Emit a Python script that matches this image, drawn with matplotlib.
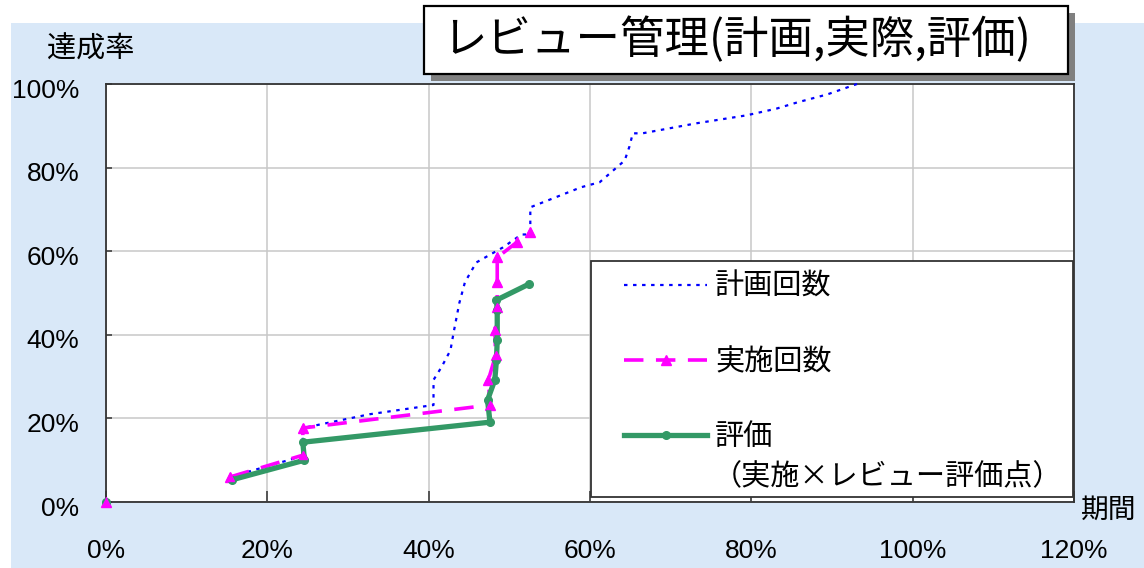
import numpy as np
import matplotlib
matplotlib.use('Agg')
import matplotlib.pyplot as plt
from matplotlib.ticker import PercentFormatter, MultipleLocator
from matplotlib.patches import Rectangle
import matplotlib.transforms as mtransforms
from matplotlib import font_manager

nan = np.nan

# ---- data (percent) ----
plan_x = [0, nan, 15.4, 24.4, 24.4, 32.7, 40.6, 40.6, 41.6, 42.7, 43.1, 43.8, 44.5, 45.9,
          49.2, 51.5, 52.6, 52.6, 58.9, 61.2, 64.3, 64.9, 65.3, 66.5, 73.2, 79.4, 83.1,
          85.7, 89.4, 93.1]
plan_y = [0, nan, 6.0, 11.0, 17.7, 21.0, 23.2, 29.2, 32.3, 36.3, 40.6, 47.6, 52.6, 57.3,
          60.9, 64.0, 64.0, 70.5, 75.3, 76.5, 81.7, 85.1, 88.2, 88.2, 90.6, 92.5, 94.1,
          95.6, 97.5, 100.0]

act_x = [0, nan, 15.4, 24.4, 24.4, 47.6, 47.4, 48.3, 48.2, 48.5, 48.5, 48.5, 50.9, nan, 52.6]
act_y = [0, nan, 6.0, 11.2, 17.7, 23.2, 29.2, 35.1, 41.1, 46.6, 52.6, 58.5, 62.1, nan, 64.5]

eval_x = [0, nan, 15.6, 24.6, 24.4, 47.6, 47.3, 48.2, 48.4, 48.5, 48.5, 48.4, 52.4]
eval_y = [0, nan, 5.3, 10.0, 14.3, 19.1, 24.4, 29.2, 33.9, 38.7, 45.9, 48.3, 52.1]

series_labels = ['計画回数', '実施回数', '評価']
legend_extra = '（実施×レビュー評価点）'
title_text = 'レビュー管理(計画,実際,評価)'
ylabel_text = '達成率'
xlabel_text = '期間'
x_ticks = [0, 20, 40, 60, 80, 100, 120]
y_ticks = [0, 20, 40, 60, 80, 100]

# ---- fonts ----
CJK = 'Noto Sans CJK JP'
try:
    font_manager.findfont('Liberation Sans Narrow', fallback_to_default=False)
    NUM = 'Liberation Sans Narrow'
except Exception:
    NUM = 'Liberation Sans'
plt.rcParams['font.family'] = [CJK, 'DejaVu Sans']
plt.rcParams['lines.scale_dashes'] = False

W, H = 1144, 568
def fx(px): return px / W
def fy(py): return 1 - py / H

fig = plt.figure(figsize=(W / 100, H / 100), dpi=100)
fig.patch.set_facecolor('white')

BG = '#d9e8f8'
fig.patches.append(Rectangle((fx(11), 0), 1 - fx(11), fy(23), transform=fig.transFigure,
                             facecolor=BG, edgecolor='none', zorder=-5))
# title box with shadow
fig.patches.append(Rectangle((fx(431), fy(81)), fx(1075) - fx(431), fy(13) - fy(81),
                             transform=fig.transFigure, facecolor='#808080',
                             edgecolor='none', zorder=2))
fig.patches.append(Rectangle((fx(424), fy(74)), fx(1068) - fx(424), fy(6) - fy(74),
                             transform=fig.transFigure, facecolor='white',
                             edgecolor='black', lw=1.6, zorder=3))
fig.text(fx(737), fy(40), title_text, ha='center', va='center', fontsize=32,
         family=[CJK, 'DejaVu Sans'], zorder=4)

ax = fig.add_axes([fx(106), fy(502), fx(1074) - fx(106), fy(84) - fy(502)])
ax.set_facecolor('white')
ax.set_xlim(0, 120)
ax.set_ylim(0, 100)
ax.set_xticks(x_ticks)
ax.set_yticks(y_ticks)
ax.xaxis.set_major_formatter(PercentFormatter(100, decimals=0))
ax.yaxis.set_major_formatter(PercentFormatter(100, decimals=0))
ax.grid(True, color='#c8c8c8', lw=1.1)
ax.set_axisbelow(True)
for s in ax.spines.values():
    s.set_color('#333333')
    s.set_linewidth(1.3)
ax.tick_params(axis='x', direction='in', length=8, width=1.1, color='#333333',
               pad=27, labelsize=19)
ax.tick_params(axis='y', direction='in', length=4, width=1.1, color='#333333',
               pad=19, labelsize=19)
for lbl in ax.get_xticklabels() + ax.get_yticklabels():
    lbl.set_fontfamily(NUM)
off = mtransforms.ScaledTranslation(0, -4 / 100, fig.dpi_scale_trans)
for t in ax.yaxis.get_major_ticks():
    t.label1.set_transform(t.label1.get_transform() + off)

l1, = ax.plot(plan_x, plan_y, color='#0000ff', lw=1.6, linestyle=(0, (2.5, 4)),
              label=series_labels[0], clip_on=False, zorder=3)
l2, = ax.plot(act_x, act_y, color='#ff00ff', lw=2.6, linestyle=(0, (14, 9)),
              marker='^', markersize=7, label=series_labels[1], clip_on=False, zorder=4)
l3, = ax.plot(eval_x, eval_y, color='#339966', lw=3.8, marker='o', markersize=5.5,
              label=series_labels[2], clip_on=False, zorder=5)
# triangle markers of the 実施 series shown above the green line
ax.plot(act_x, act_y, linestyle='none', color='#ff00ff', marker='^', markersize=6,
        label='_nolegend_', clip_on=False, zorder=5.5)

# legend frame
ax.add_patch(Rectangle((fx(591), fy(497)), fx(1073) - fx(591), fy(261) - fy(497),
                       transform=fig.transFigure, facecolor='white', edgecolor='#333333',
                       lw=1.3, zorder=6, clip_on=False))
leg = ax.legend(handles=[l1, l2, l3], loc='center left',
                bbox_to_anchor=(fx(624), fy(362)), bbox_transform=fig.transFigure,
                frameon=False, borderpad=0, borderaxespad=0,
                handlelength=2.85, handletextpad=0.27, labelspacing=1.55,
                prop={'family': [CJK, 'DejaVu Sans'], 'size': 21})
leg.set_zorder(7)
fig.text(fx(713), fy(477), legend_extra, ha='left', va='center', fontsize=21,
         family=[CJK, 'DejaVu Sans'], zorder=8)

fig.text(fx(47), fy(50), ylabel_text, ha='left', va='center', fontsize=21,
         family=[CJK, 'DejaVu Sans'])
fig.text(fx(1081), fy(510), xlabel_text, ha='left', va='center', fontsize=20,
         family=[CJK, 'DejaVu Sans'])

fig.savefig('out.png', dpi=100)
